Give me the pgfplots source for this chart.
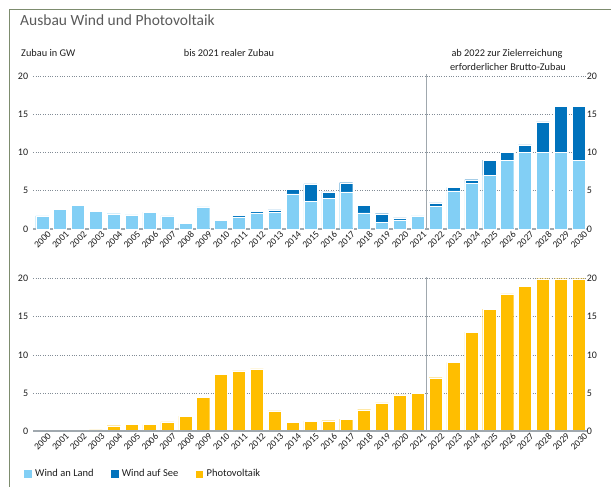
\documentclass[border=0pt]{standalone}
\usepackage{pgfplots}
\pgfplotsset{compat=1.18}
\usepackage{pgfplotstable}
\usepackage{fontspec}
\setmainfont{Carlito}
\definecolor{land}{RGB}{130,207,245}
\definecolor{see}{RGB}{0,114,188}
\definecolor{pv}{RGB}{255,190,0}
\definecolor{framec}{RGB}{125,140,110}
\definecolor{txt}{RGB}{30,30,30}
\definecolor{ttl}{RGB}{90,90,90}
\definecolor{sepc}{RGB}{160,168,174}
\definecolor{gridc}{RGB}{130,140,150}

\pgfplotstableread{
x land see
0 1.7 0
1 2.6 0
2 3.1 0
3 2.35 0
4 2.0 0
5 1.85 0
6 2.2 0
7 1.7 0
8 0.7 0
9 2.9 0
10 1.1 0
11 1.6 0.2
12 2.1 0.25
13 2.2 0.3
14 4.6 0.55
15 3.6 2.3
16 4.0 0.85
17 4.85 1.2
18 2.1 1.0
19 0.85 1.15
20 1.2 0.25
21 1.7 0
22 3.0 0.4
23 5.0 0.45
24 6.0 0.45
25 7.0 2.0
26 9.0 1.0
27 10.0 1.0
28 10.0 4.0
29 10.0 6.0
30 9.0 7.0
}\wind

\pgfplotstableread{
x pv
0 0
1 0
2 0
3 0.15
4 0.7
5 0.9
6 0.85
7 1.2
8 1.95
9 4.4
10 7.45
11 7.9
12 8.15
13 2.65
14 1.1
15 1.3
16 1.35
17 1.55
18 2.8
19 3.7
20 4.75
21 4.95
22 7
23 9
24 13
25 16
26 18
27 19
28 20
29 20
30 20
}\pvtab

\pgfplotsset{
  base/.style={
    scale only axis, width=553.4pt,
    xmin=-0.5, xmax=30.45, ymin=0, ymax=20,
    ytick={0,5,10,15,20},
    xtick={0,...,30},
    xticklabels={2000,2001,2002,2003,2004,2005,2006,2007,2008,2009,2010,2011,2012,2013,2014,2015,2016,2017,2018,2019,2020,2021,2022,2023,2024,2025,2026,2027,2028,2029,2030},
    axis line style={draw=none},
    major tick length=0pt,
    tick label style={font=\fontsize{10}{10}\selectfont, text=txt},
    /pgf/number format/assume math mode=true,
    yticklabel style={anchor=east, inner sep=0pt, xshift=-5pt},
    xticklabel style={rotate=45, anchor=north east, inner sep=0pt, xshift=2.5pt, yshift=-4.5pt, font=\fontsize{9.5}{9.5}\selectfont},
    clip=false,
  },
  mygrid/.style={ymajorgrids, grid style={gridc, dotted, line width=0.7pt}},
  rightlab/.style={base, xtick=\empty, yticklabel pos=right,
    yticklabel style={anchor=west, inner sep=0pt, xshift=5pt}},
}

\begin{document}
\begin{tikzpicture}
\path[use as bounding box] (0,0) rectangle (611pt,-487pt);
\draw[framec, line width=1.8pt] (9.5pt,-487pt) -- (9.5pt,-9.5pt) -- (611pt,-9.5pt);

\node[anchor=base west, text=ttl, font=\fontsize{15.5}{18}\selectfont, inner sep=0pt] at (20pt,-25.5pt) {Ausbau Wind und Photovoltaik};
\node[anchor=base west, text=txt, font=\fontsize{10.3}{12}\selectfont, inner sep=0pt] at (21pt,-56.5pt) {Zubau in GW};
\node[anchor=base, text=txt, font=\fontsize{10.3}{12}\selectfont, inner sep=0pt] at (229pt,-56.5pt) {bis 2021 realer Zubau};
\node[anchor=base, text=txt, font=\fontsize{10.3}{12}\selectfont, inner sep=0pt] at (507pt,-56.5pt) {ab 2022 zur Zielerreichung};
\node[anchor=base, text=txt, font=\fontsize{10.3}{12}\selectfont, inner sep=0pt] at (508pt,-70.5pt) {erforderlicher Brutto-Zubau};

% top axis
\begin{axis}[base, mygrid, height=153pt, at={(33.3pt,-229pt)}, anchor=south west,
  ybar stacked, bar width=0.73]
\addplot[fill=land, draw=white, line width=0.3pt] table[x=x, y=land] {\wind};
\addplot[fill=see, draw=white, line width=0.3pt] table[x=x, y=see] {\wind};
\draw[sepc, line width=1.3pt] (axis cs:-0.5,0) -- (axis cs:30.45,0);
\draw[sepc, line width=1.2pt] (axis cs:21.5,0) -- (axis cs:21.5,20.2);
\end{axis}
\begin{axis}[rightlab, height=153pt, at={(33.3pt,-229pt)}, anchor=south west]
\end{axis}

% bottom axis
\begin{axis}[base, mygrid, height=152.3pt, at={(33.3pt,-431pt)}, anchor=south west,
  ybar, bar width=0.73, bar shift=0pt,
  legend image code/.code={\fill[#1] (0pt,-4pt) rectangle (8pt,4pt);},
  legend columns=3,
  legend style={at={(-0.0168,-0.2823)}, anchor=west, draw=none, fill=none, inner sep=0pt,
    font=\fontsize{10.5}{12}\selectfont, text=txt,
    /tikz/every odd column/.append style={column sep=1pt},
    /tikz/every even column/.append style={column sep=15pt}},
  legend cell align=left]
\addlegendimage{fill=land, draw=none}
\addlegendentry{Wind an Land}
\addlegendimage{fill=see, draw=none}
\addlegendentry{Wind auf See}
\addplot[fill=pv, draw=white, line width=0.3pt] table[x=x, y=pv] {\pvtab};
\addlegendentry{Photovoltaik}
\draw[sepc, line width=1.3pt] (axis cs:-0.5,0) -- (axis cs:30.45,0);
\draw[sepc, line width=1.2pt] (axis cs:21.5,0) -- (axis cs:21.5,20.2);
\end{axis}
\begin{axis}[rightlab, height=152.3pt, at={(33.3pt,-431pt)}, anchor=south west]
\end{axis}
\end{tikzpicture}
\end{document}
